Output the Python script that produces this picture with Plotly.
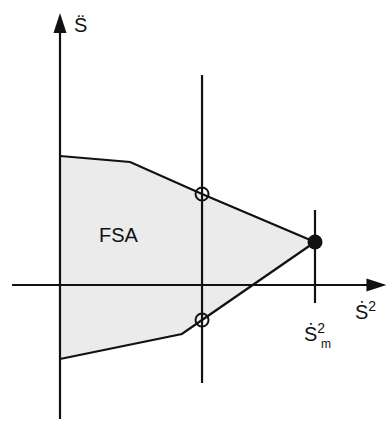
import plotly.graph_objects as go

# Feasible region (FSA) boundary vertices: (s_dot^2, s_ddot)
region_x = [0.0, 2.75, 5.57, 10.0, 5.57, 4.78, 0.0]
region_y = [12.9, 12.3, 9.1, 4.3, -3.5, -4.9, -7.4]

# Intersections with the vertical line and the maximum-velocity point
open_x = [5.57, 5.57]
open_y = [9.1, -3.5]
max_x = [10.0]
max_y = [4.3]

# Vertical reference lines
vline_x = 5.57
vline_y = [-9.8, 21.0]
mline_y = [-1.8, 7.5]

# Axis extents
xaxis_span = [-1.88, 12.55]
yaxis_span = [-13.4, 26.2]
x_tip = 12.8
y_tip = 27.2

BLACK = "#111111"
LW = 2.2

fig = go.Figure()

fig.add_trace(go.Scatter(
    x=region_x, y=region_y, mode="lines", fill="toself",
    fillcolor="#ebebeb", line=dict(color=BLACK, width=LW),
    hoverinfo="skip", showlegend=False))

# axes
fig.add_trace(go.Scatter(x=[0, 0], y=yaxis_span, mode="lines",
                         line=dict(color=BLACK, width=LW), showlegend=False))
fig.add_trace(go.Scatter(x=xaxis_span, y=[0, 0], mode="lines",
                         line=dict(color=BLACK, width=LW), showlegend=False))
fig.add_trace(go.Scatter(x=[0, x_tip], y=[y_tip, 0], mode="markers",
                         marker=dict(symbol="arrow", size=21, color=BLACK,
                                     angle=[0, 90], line=dict(width=0)),
                         showlegend=False))

# vertical lines
fig.add_trace(go.Scatter(x=[vline_x, vline_x], y=vline_y, mode="lines",
                         line=dict(color=BLACK, width=LW), showlegend=False))
fig.add_trace(go.Scatter(x=[max_x[0], max_x[0]], y=mline_y, mode="lines",
                         line=dict(color=BLACK, width=LW), showlegend=False))

# points
fig.add_trace(go.Scatter(x=open_x, y=open_y, mode="markers",
                         marker=dict(symbol="circle-open", size=13,
                                     color=BLACK, line=dict(width=2)),
                         showlegend=False))
fig.add_trace(go.Scatter(x=max_x, y=max_y, mode="markers",
                         marker=dict(symbol="circle", size=15, color=BLACK),
                         showlegend=False))

FONT = "Liberation Sans, Arial, sans-serif"

def label(text, x, y, size, xanchor="center", yanchor="middle"):
    fig.add_annotation(x=x, y=y, text=text, showarrow=False,
                       xanchor=xanchor, yanchor=yanchor,
                       font=dict(family=FONT, size=size, color=BLACK))

label("FSA", 2.33, 5.0, 20)
# S-double-dot (acceleration) axis label
label("S\u0308", 0.47, 26.0, 20, xanchor="left")
# S-dot squared axis label
label("\u1E60<sup>2</sup>", 11.48, -2.55, 20, xanchor="left")
label("\u1E60<sup>2</sup>", 9.48, -4.75, 20, xanchor="left")
label("m", 10.15, -5.85, 12, xanchor="left")

fig.update_layout(
    width=389, height=422,
    margin=dict(l=0, r=0, t=0, b=0),
    paper_bgcolor="white", plot_bgcolor="white",
    xaxis=dict(range=[-60 / 25.5, 329 / 25.5], visible=False, fixedrange=True),
    yaxis=dict(range=[-13.7, 28.5], visible=False, fixedrange=True),
    showlegend=False,
)

fig.write_html("out.html")
